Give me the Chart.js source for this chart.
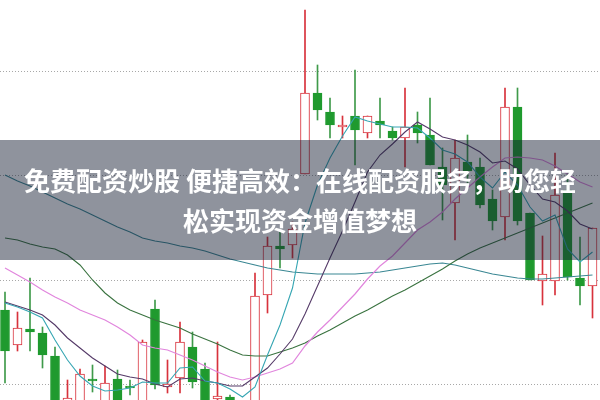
<!DOCTYPE html>
<html><head><meta charset="utf-8">
<script src="https://cdn.jsdelivr.net/npm/chart.js@4.4.0/dist/chart.umd.min.js"></script>
<style>html,body{margin:0;padding:0;background:#fff;overflow:hidden}</style>
</head><body>
<canvas id="c" width="600" height="400" style="display:block;width:600px;height:400px"></canvas>
<script>
const days = [0,1,2,3,4,5,6,7,8,9,10,11,12,13,14,15,16,17,18,19,20,21,22,23,24,25,26,27,28,29,30,31,32,33,34,35,36,37,38,39,40,41,42,43,44,45,46,47];
const opens  = [9.80,9.10,9.42,9.34,8.88,7.84,7.70,8.42,7.70,8.42,8.28,7.80,9.82,8.26,8.44,9.06,8.62,8.02,8.06,7.80,7.60,10.10,11.08,11.10,12.52,14.14,13.76,13.46,13.68,13.34,13.58,13.38,13.24,13.50,13.30,12.66,11.94,12.76,12.66,12.02,11.66,13.86,11.74,10.38,10.38,12.20,10.44,10.28];
const highs  = [10.16,9.76,10.44,9.46,9.06,8.40,8.62,8.70,8.68,8.60,8.40,9.20,10.00,8.80,9.56,9.36,8.74,9.16,8.10,7.90,10.54,11.26,11.36,11.56,15.80,14.70,14.04,13.68,14.60,13.68,14.04,13.46,14.24,13.76,14.04,13.04,13.20,13.30,12.84,12.20,14.24,14.24,11.74,11.28,12.94,12.54,11.26,11.44];
const lows   = [8.34,8.98,8.98,8.64,7.50,7.70,7.60,8.16,7.60,7.60,8.10,7.70,8.22,8.14,8.14,8.24,7.70,7.90,7.60,7.40,7.50,9.74,10.64,10.84,12.52,13.60,13.24,13.24,12.70,13.24,13.24,13.20,12.66,13.14,12.70,11.60,11.20,12.34,11.84,11.40,11.20,11.50,10.40,9.90,10.10,10.40,9.90,9.64];
const closes = [8.98,9.44,9.36,8.90,7.60,8.04,8.52,8.38,8.34,7.70,8.24,9.16,8.30,8.32,9.16,8.36,7.80,8.08,7.70,7.50,10.08,11.08,11.02,11.42,14.14,13.80,13.50,13.50,13.40,13.68,13.50,13.24,13.46,13.34,12.70,12.30,12.84,12.58,11.90,11.58,13.86,11.58,10.40,10.52,12.10,10.46,10.28,11.44];
const ma5  = [9.94,9.86,9.76,9.64,9.20,8.80,8.48,8.28,8.18,8.20,8.24,8.36,8.34,8.34,8.64,8.66,8.38,8.34,8.22,8.06,8.26,8.90,9.50,10.24,11.54,12.30,12.84,13.28,13.66,13.58,13.52,13.46,13.46,13.44,13.24,13.00,12.92,12.76,12.46,12.24,12.56,12.30,11.86,11.58,11.70,11.02,10.76,10.96];
const ma10 = [9.96,9.88,9.80,9.70,9.50,9.24,9.04,8.84,8.68,8.52,8.46,8.42,8.32,8.26,8.42,8.44,8.38,8.34,8.28,8.28,8.46,8.64,8.92,9.22,9.72,10.28,10.84,11.38,11.96,12.56,12.90,13.12,13.36,13.56,13.42,13.26,13.20,13.10,12.96,12.74,12.78,12.62,12.30,12.02,11.96,11.78,11.52,11.42];
const ma20 = [10.64,10.50,10.36,10.20,10.06,9.94,9.80,9.70,9.60,9.46,9.30,9.10,9.04,9.00,8.90,8.80,8.68,8.56,8.46,8.40,8.46,8.54,8.62,8.74,9.08,9.36,9.60,9.86,10.12,10.42,10.68,10.88,11.14,11.40,11.56,11.76,12.02,12.24,12.46,12.66,12.84,12.86,12.84,12.80,12.68,12.52,12.36,12.26];
const ma30 = [11.24,11.20,11.12,11.06,11.02,10.90,10.70,10.40,10.14,9.94,9.80,9.70,9.60,9.52,9.44,9.32,9.22,9.12,9.00,8.90,8.88,8.88,8.96,9.04,9.14,9.28,9.40,9.54,9.68,9.80,9.94,10.08,10.20,10.34,10.48,10.62,10.78,10.92,11.04,11.14,11.24,11.34,11.44,11.54,11.64,11.74,11.84,11.94];
const ma60 = [12.50,12.38,12.28,12.16,12.04,11.92,11.82,11.70,11.58,11.46,11.36,11.24,11.18,11.14,11.08,11.04,10.98,10.90,10.82,10.76,10.70,10.64,10.60,10.56,10.54,10.52,10.52,10.52,10.52,10.54,10.56,10.60,10.64,10.68,10.72,10.74,10.70,10.64,10.58,10.52,10.48,10.44,10.42,10.42,10.44,10.46,10.48,10.50];
const gridValues = [8.3, 10.4, 12.48, 14.58];
const bannerLines = ['免费配资炒股 便捷高效：在线配资服务，助您轻', '松实现资金增值梦想'];

const UP = '#d8323c', DOWN_BODY = '#1f9a2e', DOWN_WICK = '#3f9a4a';
const isUp = days.map(i => closes[i] >= opens[i]);

const lineDs = (data, color, order, w) => ({
  type: 'line', data: days.map(i => ({x: i, y: data[i]})), borderColor: color,
  borderWidth: w, pointRadius: 0, tension: 0, order: order, fill: false
});

const banner = {
  id: 'banner',
  afterDraw(chart) {
    const ctx = chart.ctx;
    ctx.save();
    ctx.fillStyle = 'rgba(20,30,50,0.48)';
    ctx.fillRect(0, 140, 600, 120);
    ctx.fillStyle = '#ffffff';
    ctx.font = '700 26px "Noto Sans CJK SC", sans-serif';
    ctx.textAlign = 'center';
    ctx.textBaseline = 'middle';
    ctx.fillText(bannerLines[0], 300, 181);
    ctx.fillText(bannerLines[1], 300, 221);
    ctx.restore();
  }
};

new Chart(document.getElementById('c'), {
  type: 'bar',
  data: {
    datasets: [
      { data: days.map(i => ({x: i, y: [lows[i], highs[i]]})), backgroundColor: isUp.map(u => u ? UP : DOWN_WICK),
        borderWidth: 0, barThickness: 1, grouped: false, order: 5 },
      { data: days.map(i => ({x: i, y: [opens[i], closes[i]]})), backgroundColor: isUp.map(u => u ? '#ffffff' : DOWN_BODY),
        borderColor: isUp.map(u => u ? UP : DOWN_BODY), borderWidth: 1, borderSkipped: false, barThickness: 9, grouped: false, order: 4 },
      lineDs(ma60, '#3a8793', 3, 1.1),
      lineDs(ma30, '#3a7340', 2, 1.1),
      lineDs(ma20, '#e186dd', 1, 1.2),
      lineDs(ma10, '#553a68', 0, 1.1),
      lineDs(ma5, '#36a6b3', -1, 1.1)
    ]
  },
  options: {
    responsive: false, animation: false, devicePixelRatio: 1,
    layout: { padding: 0 },
    plugins: { legend: { display: false }, tooltip: { enabled: false } },
    scales: {
      x: { type: 'linear', min: -0.4, max: 47.6, display: false, offset: false },
      y: { min: 8, max: 16, display: true,
        afterFit(s) { s.width = 0; },
        afterBuildTicks(s) { s.ticks = gridValues.map(v => ({value: v})); },
        ticks: { display: false },
        grid: { drawTicks: false, color: '#a8a8a8', lineWidth: 1 },
        border: { display: false, dash: [1, 2] } }
    }
  },
  plugins: [banner]
});
</script>
</body></html>
